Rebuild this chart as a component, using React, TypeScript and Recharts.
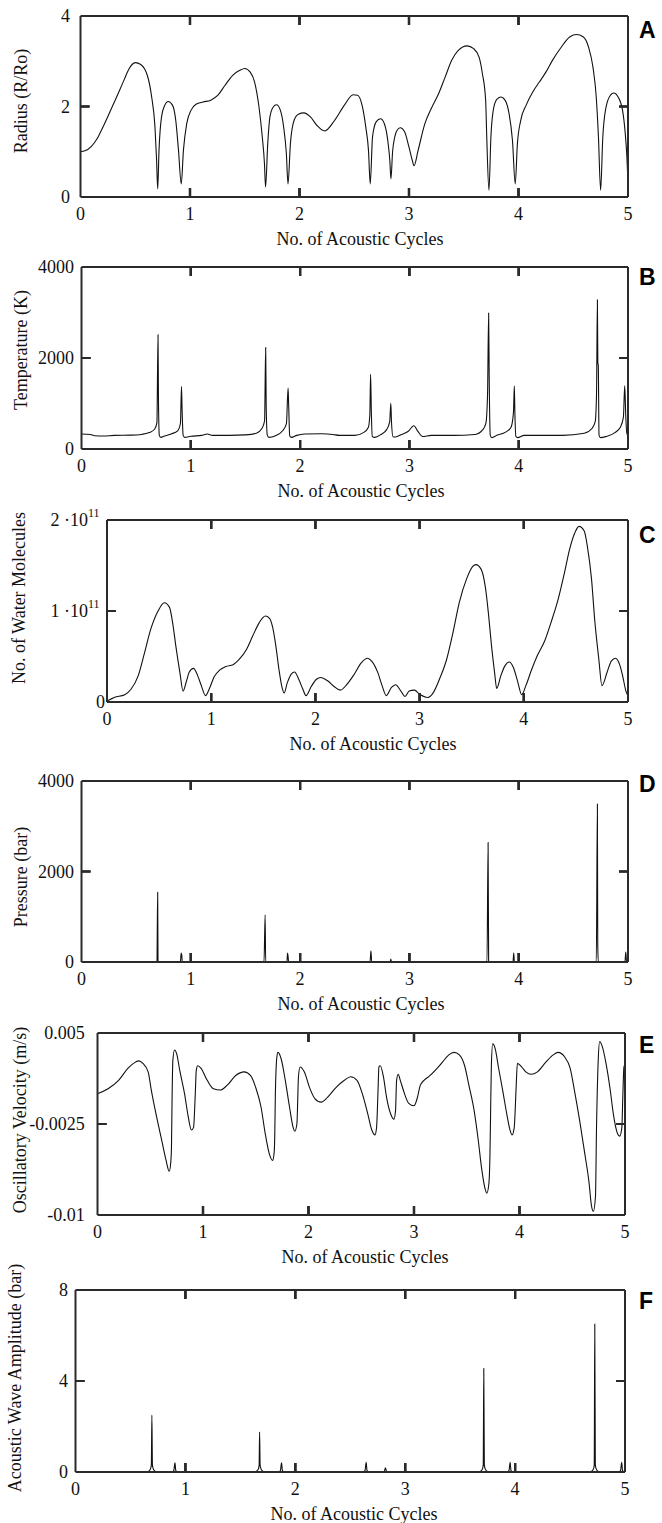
import React from 'react';
import { LineChart, Line, XAxis, YAxis, Label, ReferenceLine } from 'recharts';

const SERIF = '"Liberation Serif", "Times New Roman", Times, serif';
const SANS = '"Liberation Sans", Arial, Helvetica, sans-serif';
const INK = '#111';
const FRAME = '#2a2a2a';

const cycleTicks = [0, 1, 2, 3, 4, 5];
const innerCycleTicks = [1, 2, 3, 4];
const xAxisTitle = 'No. of Acoustic Cycles';

// A: bubble radius (R/Ro)
const radiusPoints: [number, number][] = [
  [0, 1.0], [0.04, 1.02], [0.1, 1.12], [0.15, 1.28], [0.2, 1.52], [0.25, 1.78], [0.3, 2.05], [0.35, 2.32],
  [0.4, 2.6], [0.44, 2.82], [0.5, 2.97], [0.55, 2.93], [0.61, 2.69], [0.65, 2.21], [0.68, 1.55], [0.695, 0.81],
  [0.705, 0.18], [0.717, 1.03], [0.74, 1.77], [0.77, 2.03], [0.8, 2.11], [0.84, 2.03], [0.87, 1.69], [0.895, 1.03],
  [0.92, 0.29], [0.94, 1.03], [0.97, 1.62], [1.01, 1.92], [1.055, 2.05], [1.12, 2.1], [1.19, 2.14], [1.255, 2.25],
  [1.32, 2.47], [1.39, 2.69], [1.455, 2.8], [1.5, 2.84], [1.55, 2.76], [1.59, 2.54], [1.63, 1.99], [1.66, 1.33],
  [1.68, 0.74], [1.69, 0.22], [1.71, 1.18], [1.73, 1.77], [1.76, 1.99], [1.79, 2.04], [1.825, 1.92], [1.855, 1.55],
  [1.88, 0.96], [1.895, 0.29], [1.917, 1.18], [1.95, 1.69], [1.99, 1.83], [2.04, 1.86], [2.1, 1.77], [2.16, 1.58],
  [2.23, 1.46], [2.32, 1.69], [2.41, 2.03], [2.49, 2.26], [2.53, 2.25], [2.575, 1.99], [2.605, 1.55], [2.63, 1.03],
  [2.646, 0.29], [2.667, 1.33], [2.7, 1.66], [2.74, 1.73], [2.775, 1.62], [2.806, 1.25], [2.825, 0.8], [2.835, 0.4],
  [2.85, 1.0], [2.87, 1.33], [2.89, 1.47], [2.92, 1.53], [2.96, 1.44], [3.0, 1.1], [3.03, 0.81], [3.046, 0.69],
  [3.083, 1.03], [3.145, 1.62], [3.21, 1.99], [3.27, 2.28], [3.33, 2.65], [3.39, 3.02], [3.45, 3.24], [3.53, 3.34],
  [3.59, 3.28], [3.64, 3.09], [3.67, 2.73], [3.7, 2.14], [3.71, 1.33], [3.73, 0.15], [3.748, 1.33], [3.775, 1.99],
  [3.806, 2.17], [3.84, 2.21], [3.877, 2.14], [3.914, 1.84], [3.945, 1.25], [3.97, 0.29], [3.99, 1.18], [4.02, 1.69],
  [4.07, 2.03], [4.13, 2.32], [4.19, 2.54], [4.25, 2.76], [4.31, 3.02], [4.39, 3.31], [4.47, 3.54], [4.53, 3.59],
  [4.59, 3.54], [4.64, 3.31], [4.68, 2.87], [4.71, 2.21], [4.73, 1.33], [4.75, 0.15], [4.77, 1.33], [4.8, 1.99],
  [4.84, 2.25], [4.87, 2.3], [4.91, 2.21], [4.95, 1.92], [4.975, 1.4], [4.99, 0.88], [5.0, 0.3],
];
const radiusTicks = [0, 2, 4];
const radiusTickLabels: [string, string][] = [['0', ''], ['2', ''], ['4', '']];

// B: temperature (K)
const temperaturePoints: [number, number][] = [
  [0, 330], [0.08, 320], [0.12, 290], [0.2, 285], [0.3, 300], [0.45, 305], [0.55, 320], [0.62, 360], [0.67, 440],
  [0.69, 580], [0.7, 2510], [0.704, 1100], [0.712, 300], [0.725, 255], [0.76, 285], [0.82, 330], [0.88, 400],
  [0.905, 560], [0.915, 1370], [0.92, 900], [0.93, 300], [0.945, 255], [1.0, 280], [1.1, 300], [1.15, 330],
  [1.2, 300], [1.35, 300], [1.5, 310], [1.6, 345], [1.65, 450], [1.675, 620], [1.685, 2230], [1.69, 900],
  [1.7, 300], [1.715, 255], [1.77, 285], [1.84, 400], [1.875, 560], [1.89, 1340], [1.895, 1000], [1.905, 290],
  [1.92, 255], [1.97, 300], [2.04, 330], [2.2, 335], [2.3, 320], [2.36, 300], [2.5, 300], [2.58, 360],
  [2.625, 480], [2.638, 760], [2.645, 1640], [2.652, 800], [2.66, 280], [2.68, 255], [2.74, 320], [2.79, 420],
  [2.82, 600], [2.83, 1005], [2.836, 600], [2.85, 270], [2.87, 265], [2.93, 320], [2.99, 390], [3.04, 510],
  [3.08, 380], [3.12, 275], [3.2, 300], [3.4, 300], [3.6, 320], [3.67, 420], [3.7, 570], [3.715, 1200],
  [3.725, 2990], [3.73, 1600], [3.74, 300], [3.755, 250], [3.8, 300], [3.88, 370], [3.93, 480], [3.952, 800],
  [3.96, 1390], [3.965, 800], [3.975, 270], [3.99, 250], [4.05, 300], [4.4, 300], [4.6, 345], [4.67, 450],
  [4.7, 600], [4.712, 1200], [4.72, 3280], [4.724, 1880], [4.728, 1850], [4.735, 300], [4.75, 250], [4.8, 275],
  [4.88, 360], [4.93, 480], [4.958, 700], [4.97, 1390], [4.98, 700], [4.99, 330], [5.0, 320],
];
const temperatureTicks = [0, 2000, 4000];
const temperatureTickLabels: [string, string][] = [['0', ''], ['2000', ''], ['4000', '']];

// C: number of water molecules (in units of 1e11)
const waterPoints1e11: [number, number][] = [
  [0, 0.01], [0.07, 0.05], [0.17, 0.08], [0.23, 0.14], [0.3, 0.29], [0.36, 0.54], [0.42, 0.8], [0.49, 1.0],
  [0.55, 1.09], [0.6, 1.04], [0.63, 0.87], [0.66, 0.62], [0.7, 0.32], [0.73, 0.12], [0.76, 0.22], [0.79, 0.33],
  [0.83, 0.37], [0.87, 0.29], [0.905, 0.18], [0.946, 0.07], [0.98, 0.14], [1.03, 0.28], [1.08, 0.35], [1.14, 0.39],
  [1.21, 0.41], [1.27, 0.47], [1.34, 0.58], [1.4, 0.73], [1.46, 0.87], [1.52, 0.945], [1.56, 0.92], [1.59, 0.82],
  [1.62, 0.62], [1.65, 0.36], [1.68, 0.16], [1.7, 0.1], [1.73, 0.21], [1.77, 0.31], [1.8, 0.33], [1.84, 0.25],
  [1.88, 0.14], [1.91, 0.07], [1.96, 0.17], [2.01, 0.25], [2.05, 0.27], [2.12, 0.23], [2.18, 0.17], [2.24, 0.13],
  [2.3, 0.19], [2.37, 0.3], [2.44, 0.43], [2.5, 0.48], [2.54, 0.45], [2.6, 0.32], [2.64, 0.18], [2.68, 0.07],
  [2.73, 0.16], [2.77, 0.19], [2.82, 0.12], [2.86, 0.06], [2.9, 0.12], [2.95, 0.13], [3.0, 0.085], [3.08, 0.05],
  [3.13, 0.1], [3.19, 0.25], [3.26, 0.47], [3.32, 0.76], [3.38, 1.09], [3.45, 1.35], [3.51, 1.49], [3.54, 1.51],
  [3.59, 1.46], [3.63, 1.27], [3.66, 0.98], [3.69, 0.62], [3.72, 0.32], [3.74, 0.15], [3.78, 0.29], [3.82, 0.4],
  [3.86, 0.44], [3.9, 0.38], [3.94, 0.23], [3.98, 0.08], [4.02, 0.18], [4.07, 0.34], [4.13, 0.51], [4.2, 0.67],
  [4.26, 0.87], [4.33, 1.13], [4.39, 1.42], [4.44, 1.68], [4.49, 1.86], [4.53, 1.93], [4.58, 1.88], [4.61, 1.71],
  [4.65, 1.35], [4.68, 0.91], [4.72, 0.47], [4.75, 0.18], [4.8, 0.33], [4.84, 0.45], [4.88, 0.48], [4.92, 0.41],
  [4.95, 0.28], [4.98, 0.12], [5.0, 0.07],
];
const waterTicks = [0, 1e11, 2e11];
const waterTickLabels: [string, string][] = [['0', ''], ['1 \u00B710', '11'], ['2 \u00B710', '11']];

// D: pressure (bar)
const pressurePoints: [number, number][] = [
  [0, 2], [0.68, 5], [0.69, 20], [0.697, 1540], [0.7, 30], [0.71, 3], [0.905, 5], [0.912, 200], [0.918, 150],
  [0.921, 5], [1.67, 10], [1.68, 1040], [1.685, 10], [1.88, 5], [1.885, 200], [1.89, 120], [1.895, 5],
  [2.64, 5], [2.648, 250], [2.655, 5], [2.825, 5], [2.83, 66], [2.835, 5], [3.71, 10], [3.72, 2640],
  [3.725, 10], [3.948, 5], [3.955, 200], [3.96, 5], [4.71, 10], [4.72, 3490], [4.723, 420], [4.728, 10],
  [4.972, 5], [4.98, 220], [4.986, 10], [5.0, 5],
];
const pressureTicks = [0, 2000, 4000];
const pressureTickLabels: [string, string][] = [['0', ''], ['2000', ''], ['4000', '']];

// E: oscillatory velocity (m/s)
const velocityPoints: [number, number][] = [
  [0, 0.0], [0.1, 0.0004], [0.2, 0.0011], [0.29, 0.0021], [0.36, 0.0026], [0.39, 0.0027], [0.43, 0.0025],
  [0.48, 0.0018], [0.51, 0.0003], [0.56, -0.0019], [0.61, -0.0039], [0.65, -0.0055], [0.68, -0.0064],
  [0.695, -0.0056], [0.701, -0.0045], [0.706, -0.001], [0.714, 0.0027], [0.73, 0.0036], [0.75, 0.0033],
  [0.78, 0.0019], [0.825, 0.0], [0.86, -0.0019], [0.89, -0.003], [0.91, -0.0028], [0.927, 0.0], [0.936, 0.0019],
  [0.95, 0.0023], [0.98, 0.0021], [1.04, 0.0011], [1.1, 0.0004], [1.165, 0.0003], [1.23, 0.0007], [1.31, 0.0015],
  [1.39, 0.0018], [1.45, 0.0015], [1.5, 0.0005], [1.55, -0.0011], [1.59, -0.0033], [1.63, -0.005], [1.66, -0.0055],
  [1.675, -0.0048], [1.68, -0.0035], [1.686, 0.0], [1.7, 0.003], [1.71, 0.0034], [1.74, 0.0029], [1.78, 0.0011],
  [1.82, -0.0011], [1.855, -0.0028], [1.87, -0.0031], [1.89, -0.0025], [1.905, 0.0014], [1.92, 0.0022],
  [1.96, 0.0018], [2.01, 0.0005], [2.06, -0.0004], [2.12, -0.0007], [2.18, -0.0003], [2.26, 0.0005],
  [2.34, 0.0011], [2.4, 0.0014], [2.46, 0.0011], [2.51, 0.0], [2.56, -0.0016], [2.6, -0.003], [2.63, -0.0034],
  [2.645, -0.0028], [2.66, 0.0005], [2.667, 0.0022], [2.68, 0.0023], [2.71, 0.0014], [2.74, -0.0003],
  [2.78, -0.0017], [2.81, -0.0021], [2.825, -0.0014], [2.835, 0.0011], [2.85, 0.0016], [2.87, 0.0011],
  [2.91, 0.0], [2.95, -0.0008], [3.0, -0.001], [3.03, -0.0004], [3.06, 0.0007], [3.095, 0.0011], [3.14, 0.0014],
  [3.21, 0.002], [3.27, 0.0026], [3.33, 0.0032], [3.38, 0.0034], [3.43, 0.0032], [3.48, 0.0023], [3.52, 0.0007],
  [3.57, -0.0014], [3.61, -0.0039], [3.64, -0.0061], [3.67, -0.0077], [3.69, -0.0082], [3.71, -0.0074],
  [3.72, -0.005], [3.724, -0.0028], [3.733, 0.0022], [3.746, 0.0041], [3.77, 0.0037], [3.8, 0.0022],
  [3.84, 0.0003], [3.88, -0.0017], [3.91, -0.003], [3.93, -0.0034], [3.95, -0.0028], [3.968, 0.0005],
  [3.98, 0.0025], [4.02, 0.0022], [4.06, 0.0018], [4.11, 0.0016], [4.17, 0.0018], [4.25, 0.0026], [4.32, 0.0032],
  [4.365, 0.0034], [4.43, 0.003], [4.48, 0.0021], [4.52, 0.0003], [4.57, -0.0022], [4.62, -0.005], [4.66, -0.0074],
  [4.68, -0.0091], [4.7, -0.0097], [4.72, -0.0085], [4.73, -0.0028], [4.746, 0.0027], [4.76, 0.0043],
  [4.78, 0.004], [4.82, 0.0025], [4.86, 0.0003], [4.89, -0.0017], [4.93, -0.0033], [4.95, -0.0035],
  [4.97, -0.0028], [4.98, 0.0], [4.99, 0.0022], [5.0, 0.0024],
];
const velocityTicks = [-0.01, -0.0025, 0.005];
const velocityTickLabels: [string, string][] = [['-0.01', ''], ['-0.0025', ''], ['0.005', '']];

// F: acoustic wave amplitude (bar)
const amplitudePoints: [number, number][] = [
  [0, 0], [0.65, 0], [0.67, 0.05], [0.683, 0.15], [0.69, 0.3], [0.695, 2.5], [0.7, 0.3], [0.707, 0.15],
  [0.72, 0.05], [0.74, 0], [0.88, 0], [0.895, 0.08], [0.905, 0.4], [0.912, 0.08], [0.925, 0], [1.63, 0],
  [1.65, 0.05], [1.665, 0.15], [1.671, 0.3], [1.675, 1.76], [1.68, 0.3], [1.687, 0.15], [1.7, 0.05], [1.72, 0],
  [1.85, 0], [1.865, 0.08], [1.875, 0.4], [1.882, 0.08], [1.895, 0], [2.62, 0], [2.635, 0.08], [2.645, 0.43],
  [2.652, 0.08], [2.665, 0], [2.8, 0], [2.812, 0.06], [2.82, 0.18], [2.828, 0.06], [2.84, 0], [3.67, 0],
  [3.69, 0.05], [3.704, 0.15], [3.71, 0.3], [3.715, 4.55], [3.72, 0.3], [3.727, 0.15], [3.74, 0.05], [3.76, 0],
  [3.93, 0], [3.945, 0.08], [3.955, 0.43], [3.962, 0.08], [3.975, 0], [4.68, 0], [4.7, 0.05], [4.714, 0.15],
  [4.72, 0.3], [4.725, 6.5], [4.73, 0.3], [4.737, 0.15], [4.75, 0.05], [4.77, 0], [4.945, 0], [4.96, 0.08],
  [4.97, 0.43], [4.977, 0.08], [4.99, 0], [5.0, 0],
];
const amplitudeTicks = [0, 4, 8];
const amplitudeTickLabels: [string, string][] = [['0', ''], ['4', ''], ['8', '']];

interface PanelCfg {
  letter: string;
  letterBase: number;
  points: [number, number][];
  scale: number;
  yTicks: number[];
  yLabels: [string, string][];
  yGap: number[];
  yTitle: string;
  yTitleX: number;
  yTitleY: number;
  xTitleX: number;
  L: number;
  R: number;
  T: number;
  B: number;
}

const panels: PanelCfg[] = [
  { letter: 'A', letterBase: 38, points: radiusPoints, scale: 1, yTicks: radiusTicks, yLabels: radiusTickLabels,
    yGap: [10.5, 10.5, 10.5], yTitle: 'Radius (R/Ro)', yTitleX: 21, yTitleY: 101, xTitleX: 360,
    L: 80.5, R: 628, T: 16, B: 197 },
  { letter: 'B', letterBase: 285, points: temperaturePoints, scale: 1, yTicks: temperatureTicks, yLabels: temperatureTickLabels,
    yGap: [7.5, 7.5, 7.5], yTitle: 'Temperature (K)', yTitleX: 21, yTitleY: 350, xTitleX: 361,
    L: 81.5, R: 628, T: 267, B: 449 },
  { letter: 'C', letterBase: 543, points: waterPoints1e11, scale: 1e11, yTicks: waterTicks, yLabels: waterTickLabels,
    yGap: [2, 7.5, 7.5], yTitle: 'No. of Water Molecules', yTitleX: 19, yTitleY: 598, xTitleX: 373,
    L: 107, R: 628, T: 520, B: 702 },
  { letter: 'D', letterBase: 792, points: pressurePoints, scale: 1, yTicks: pressureTicks, yLabels: pressureTickLabels,
    yGap: [7.5, 7.5, 7.5], yTitle: 'Pressure (bar)', yTitleX: 21, yTitleY: 877, xTitleX: 361,
    L: 81.5, R: 628, T: 781, B: 962 },
  { letter: 'E', letterBase: 1053, points: velocityPoints, scale: 1, yTicks: velocityTicks, yLabels: velocityTickLabels,
    yGap: [12.8, 12.8, 12.8], yTitle: 'Oscillatory Velocity (m/s)', yTitleX: 20, yTitleY: 1120, xTitleX: 365,
    L: 97.5, R: 625, T: 1033, B: 1215 },
  { letter: 'F', letterBase: 1309, points: amplitudePoints, scale: 1, yTicks: amplitudeTicks, yLabels: amplitudeTickLabels,
    yGap: [7.5, 7.5, 7.5], yTitle: 'Acoustic Wave Amplitude (bar)', yTitleX: 15, yTitleY: 1378, xTitleX: 354,
    L: 75.5, R: 625, T: 1290, B: 1472 },
];

const EmptyTick = () => <g />;
const PAD_TOP = 40;
const TICK_LEN = 9;
const TICK_W = 2.2;

// inward tick marks at both ends of a reference line (positions come from the axis scales)
const VerticalTickPair = (p: any) => {
  const top = Math.min(Number(p.y1), Number(p.y2));
  const bot = Math.max(Number(p.y1), Number(p.y2));
  const x = Number(p.x1);
  return (
    <path d={`M${x},${top}V${top + TICK_LEN}M${x},${bot - TICK_LEN}V${bot}`} stroke={FRAME} strokeWidth={TICK_W}
      fill="none" />
  );
};
const HorizontalTickPair = (p: any) => {
  const left = Math.min(Number(p.x1), Number(p.x2));
  const right = Math.max(Number(p.x1), Number(p.x2));
  const y = Number(p.y1);
  return (
    <path d={`M${left},${y}H${left + TICK_LEN}M${right - TICK_LEN},${y}H${right}`} stroke={FRAME} strokeWidth={TICK_W}
      fill="none" />
  );
};

function Panel({ cfg }: { cfg: PanelCfg }) {
  const chartTop = cfg.T - PAD_TOP;
  const plotH = cfg.B - cfg.T;
  const plotW = cfg.R - cfg.L;
  const height = plotH + PAD_TOP + 57;
  const plotTop = PAD_TOP;
  const plotBottom = cfg.B - chartTop;
  const bottomAxisH = 57;
  const data = cfg.points.map(([x, v]) => ({ x, y: v * cfg.scale }));
  const yMin = cfg.yTicks[0];
  const yMax = cfg.yTicks[cfg.yTicks.length - 1];
  const yDomain: [number, number] = [yMin, yMax];
  const yMid = cfg.yTicks[1];

  // tick marks mirrored onto the frame, placed with the same linear mapping the axes use
  const xTickPath = innerCycleTicks
    .map((v) => {
      const x = cfg.L + (v / 5) * plotW;
      return `M${x},${plotTop}V${plotTop + TICK_LEN}M${x},${plotBottom - TICK_LEN}V${plotBottom}`;
    })
    .join('');
  const yMidPx = plotTop + (1 - (yMid - yMin) / (yMax - yMin)) * plotH;
  const yTickPath = `M${cfg.L},${yMidPx}H${cfg.L + TICK_LEN}M${cfg.R - TICK_LEN},${yMidPx}H${cfg.R}`;

  const XTick = (props: any) => {
    const v = Number(props.payload.value);
    return (
      <g>
        <text x={props.x} y={plotBottom + 22.5} textAnchor="middle" fontFamily={SERIF} fontSize={18} fill={INK}>
          {props.payload.value}
        </text>
        {v > 0 && v < 5 ? (
          <path d={`M${props.x},${plotTop}V${plotTop + TICK_LEN}M${props.x},${plotBottom - TICK_LEN}V${plotBottom}`}
            stroke={FRAME} strokeWidth={TICK_W} fill="none" />
        ) : null}
      </g>
    );
  };
  const YTick = (props: any) => {
    const v = props.payload.value;
    const idx = cfg.yTicks.indexOf(v);
    const lab = cfg.yLabels[idx] ?? [String(v), ''];
    const gap = cfg.yGap[idx] ?? 8;
    return (
      <g>
        <text x={cfg.L - gap} y={props.y} dy="0.35em" textAnchor="end" fontFamily={SERIF} fontSize={18} fill={INK}>
          {lab[0]}
          {lab[1] ? <tspan dy={-9} fontSize={12}>{lab[1]}</tspan> : null}
        </text>
        {idx === 1 ? (
          <path d={`M${cfg.L},${props.y}H${cfg.L + TICK_LEN}M${cfg.R - TICK_LEN},${props.y}H${cfg.R}`}
            stroke={FRAME} strokeWidth={TICK_W} fill="none" />
        ) : null}
      </g>
    );
  };
  const tcx = cfg.yTitleX;
  const tcy = cfg.yTitleY - chartTop;

  return (
    <div style={{ position: 'absolute', left: 0, top: chartTop, width: 662, height }}>
      <LineChart width={662} height={height} data={data}
        margin={{ top: PAD_TOP - 1, right: 662 - cfg.R - 1, bottom: 0, left: 0 }}>
        <XAxis xAxisId="bottom" dataKey="x" type="number" domain={[0, 5]} allowDataOverflow ticks={cycleTicks} interval={0}
          height={bottomAxisH} axisLine={{ stroke: FRAME, strokeWidth: 2 }} tickLine={false} tickMargin={0} tick={XTick}>
          <Label content={() => (
            <g>
              <text x={cfg.xTitleX} y={plotBottom + 48} textAnchor="middle" fontFamily={SERIF} fontSize={18} fill={INK}>
                {xAxisTitle}
              </text>
              <path d={xTickPath} stroke={FRAME} strokeWidth={TICK_W} fill="none" />
            </g>
          )} />
        </XAxis>
        <XAxis xAxisId="top" orientation="top" dataKey="x" type="number" domain={[0, 5]} allowDataOverflow
          height={1} axisLine={{ stroke: FRAME, strokeWidth: 2 }} tickLine={false} tick={EmptyTick} />
        <YAxis yAxisId="left" dataKey="y" type="number" domain={yDomain} allowDataOverflow ticks={cfg.yTicks} interval={0} width={cfg.L}
          axisLine={{ stroke: FRAME, strokeWidth: 2 }} tickLine={false} tickMargin={0} tick={YTick}>
          <Label content={() => (
            <g>
              <text x={tcx} y={tcy} dy="0.35em" transform={`rotate(-90 ${tcx} ${tcy})`} textAnchor="middle"
                fontFamily={SERIF} fontSize={18} fill={INK}>
                {cfg.yTitle}
              </text>
              <path d={yTickPath} stroke={FRAME} strokeWidth={TICK_W} fill="none" />
            </g>
          )} />
        </YAxis>
        <YAxis yAxisId="right" orientation="right" dataKey="y" type="number" domain={yDomain} allowDataOverflow
          width={1} axisLine={{ stroke: FRAME, strokeWidth: 2 }} tickLine={false} tick={EmptyTick} />
        {innerCycleTicks.map((v) => (
          <ReferenceLine key={`vt${v}`} xAxisId="bottom" yAxisId="left" x={v} ifOverflow="visible"
            stroke={FRAME} shape={VerticalTickPair} />
        ))}
        <ReferenceLine xAxisId="bottom" yAxisId="left" y={yMid} ifOverflow="visible" stroke={FRAME}
          shape={HorizontalTickPair} />
        <Line xAxisId="bottom" yAxisId="left" dataKey="y" type="monotone" stroke={INK} strokeWidth={1.1}
          dot={false} activeDot={false} isAnimationActive={false} />
      </LineChart>
    </div>
  );
}

export default function App() {
  return (
    <div style={{ position: 'absolute', left: 0, top: 0, width: 662, height: 1523, overflow: 'hidden', background: '#fff' }}>
      {panels.map((p) => (
        <Panel key={p.letter} cfg={p} />
      ))}
      <svg width={662} height={1523} style={{ position: 'absolute', left: 0, top: 0, pointerEvents: 'none' }}>
        {panels.map((p) => (
          <text key={p.letter} x={639} y={p.letterBase} fontFamily={SANS} fontWeight="bold" fontSize={23} fill="#000">
            {p.letter}
          </text>
        ))}
      </svg>
    </div>
  );
}
